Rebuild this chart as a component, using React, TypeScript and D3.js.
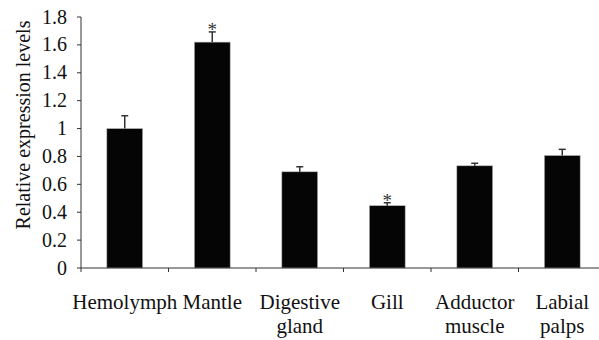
import React from "react";
import * as d3 from "d3";

const categories: string[][] = [
  ["Hemolymph"],
  ["Mantle"],
  ["Digestive", "gland"],
  ["Gill"],
  ["Adductor", "muscle"],
  ["Labial", "palps"],
];
const values = [1.0, 1.62, 0.69, 0.447, 0.733, 0.807];
const errors = [0.092, 0.073, 0.036, 0.021, 0.018, 0.044];
const significant = [false, true, false, true, false, false];
const yTicks = [0, 0.2, 0.4, 0.6, 0.8, 1, 1.2, 1.4, 1.6, 1.8];

const W = 599;
const H = 340;
const left = 81;
const right = 606;
const top = 17;
const bottom = 268;
const font = "Liberation Serif";

export default function App() {
  const x = d3
    .scaleBand<number>()
    .domain(categories.map((_, i) => i))
    .range([left, right])
    .paddingInner(0.59)
    .paddingOuter(0.295);
  const y = d3.scaleLinear().domain([0, 1.8]).range([bottom, top]);
  const step = x.step();
  const txt = { fontFamily: font };

  return (
    <svg
      width={W}
      height={H}
      style={{ position: "absolute", left: 0, top: 0, background: "#fff" }}
    >
      {values.map((v, i) => (
        <rect
          key={"b" + i}
          x={x(i)!}
          y={y(v)}
          width={x.bandwidth()}
          height={bottom - y(v)}
          fill="#050505"
          stroke="#bbb"
          strokeWidth={0.6}
        />
      ))}
      {values.map((v, i) => {
        const cx = x(i)! + x.bandwidth() / 2;
        const yt = y(v + errors[i]);
        return (
          <g key={"e" + i} stroke="#333" strokeWidth={1.5}>
            <line x1={cx} x2={cx} y1={y(v)} y2={yt} />
            <line x1={cx - 3.5} x2={cx + 3.5} y1={yt} y2={yt} />
          </g>
        );
      })}
      {values.map((v, i) =>
        significant[i] ? (
          <text
            key={"s" + i}
            x={x(i)! + x.bandwidth() / 2}
            y={y(v + errors[i]) + 4}
            textAnchor="middle"
            style={txt}
            fontSize={19}
            fill="#333"
          >
            *
          </text>
        ) : null
      )}
      <line x1={left} x2={left} y1={top} y2={bottom} stroke="#333" strokeWidth={1} />
      {yTicks.map((t) => (
        <g key={"yt" + t}>
          <line x1={left - 4} x2={left} y1={y(t)} y2={y(t)} stroke="#333" />
          <text
            x={left - 14}
            y={y(t)}
            dy="0.33em"
            textAnchor="end"
            style={txt}
            fontSize={20}
            fill="#111"
          >
            {String(t)}
          </text>
        </g>
      ))}
      <line x1={left} x2={right} y1={bottom} y2={bottom} stroke="#333" strokeWidth={1} />
      {categories.map((_, i) => (
        <line
          key={"xt" + i}
          x1={left + step * i}
          x2={left + step * i}
          y1={bottom}
          y2={bottom + 4}
          stroke="#333"
        />
      ))}
      {categories.map((lines, i) => (
        <text
          key={"xl" + i}
          x={x(i)! + x.bandwidth() / 2}
          y={309}
          textAnchor="middle"
          style={txt}
          fontSize={21}
          fill="#111"
        >
          {lines.map((l, j) => (
            <tspan key={j} x={x(i)! + x.bandwidth() / 2} dy={j === 0 ? 0 : 24}>
              {l}
            </tspan>
          ))}
        </text>
      ))}
      <text
        transform={`translate(30,125) rotate(-90)`}
        textAnchor="middle"
        style={txt}
        fontSize={20}
        fill="#111"
      >
        Relative expression levels
      </text>
    </svg>
  );
}
